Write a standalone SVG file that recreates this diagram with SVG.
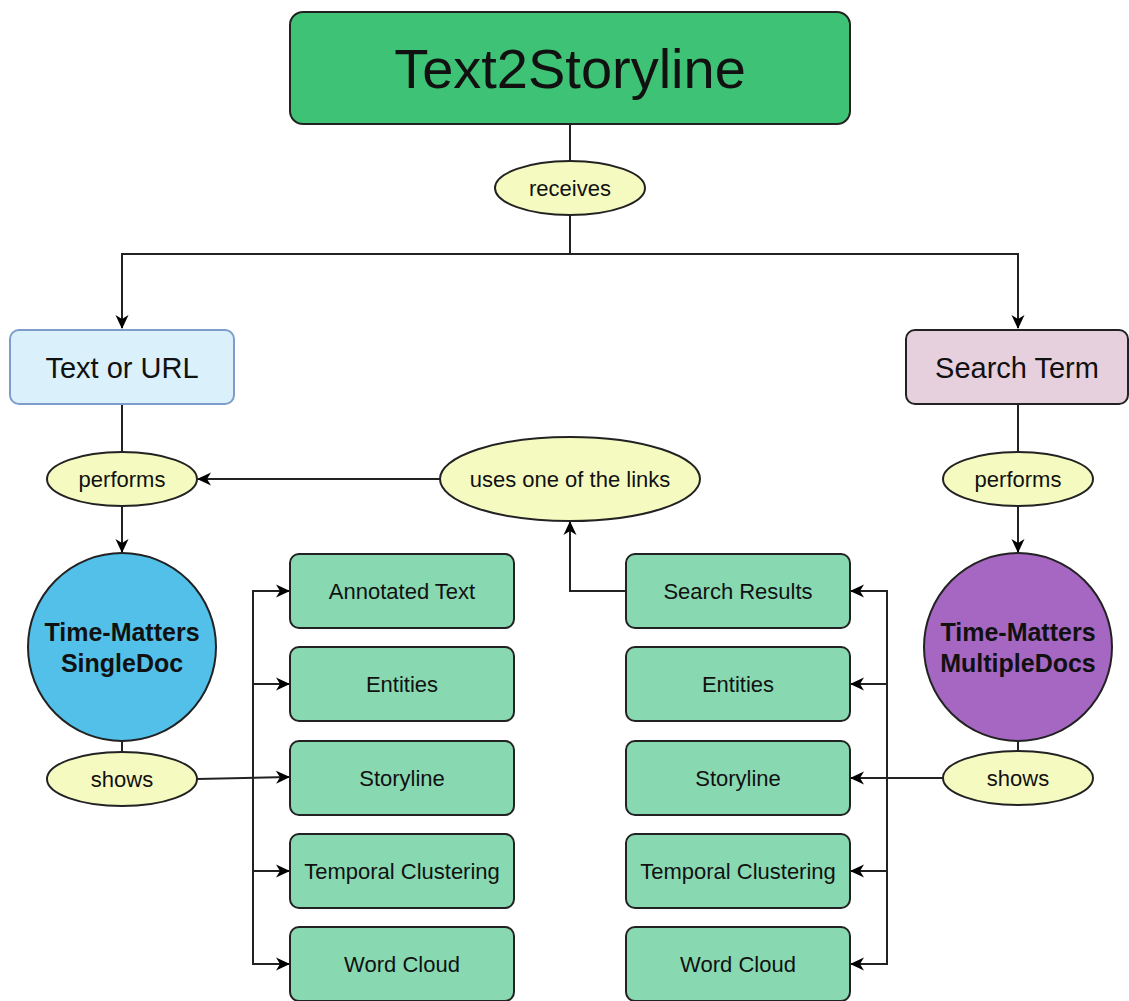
<svg xmlns="http://www.w3.org/2000/svg" width="1129" height="1001" viewBox="0 0 1129 1001">
<defs>
<marker id="arr" viewBox="0 0 14 14" refX="13" refY="7" markerWidth="14" markerHeight="14" markerUnits="userSpaceOnUse" orient="auto">
<path d="M0,0.5 L14,7 L0,13.5 L4,7 z" fill="#000"/>
</marker>
<style>
text{font-family:"Liberation Sans",Arial,sans-serif;fill:#111;text-anchor:middle;dominant-baseline:central}
.box{fill:#88D9B1;stroke:#222;stroke-width:2}
.ell{fill:#F5FBC0;stroke:#222;stroke-width:2}
.bt{font-size:22px}
.et{font-size:22px}
.ct{font-size:25px;font-weight:bold}
.con{fill:none;stroke:#222;stroke-width:2}
</style>
</defs>
<rect width="1129" height="1001" fill="#fff"/>
<g id="connectors">
<path class="con" d="M570,124 V162"/>
<path class="con" d="M570,215 V254 H122 V328" marker-end="url(#arr)"/>
<path class="con" d="M570,254 H1018 V328" marker-end="url(#arr)"/>
<path class="con" d="M122,404 V452"/>
<path class="con" d="M122,506 V552" marker-end="url(#arr)"/>
<path class="con" d="M1018,404 V452"/>
<path class="con" d="M1018,506 V552" marker-end="url(#arr)"/>
<path class="con" d="M440,479 H198" marker-end="url(#arr)"/>
<path class="con" d="M626,591 H570 V522" marker-end="url(#arr)"/>
<path class="con" d="M122,741 V752"/>
<path class="con" d="M1018,741 V752"/>
<path class="con" d="M197,779 L289,777" marker-end="url(#arr)"/>
<path class="con" d="M943,778 H851" marker-end="url(#arr)"/>
<path class="con" d="M289,591 H253 V964 H289" marker-end="url(#arr)"/>
<path class="con" d="M253,591 H289" marker-end="url(#arr)"/>
<path class="con" d="M253,684 H289" marker-end="url(#arr)"/>
<path class="con" d="M253,871 H289" marker-end="url(#arr)"/>
<path class="con" d="M851,591 H887 V964 H851" marker-end="url(#arr)"/>
<path class="con" d="M887,591 H851" marker-end="url(#arr)"/>
<path class="con" d="M887,684 H851" marker-end="url(#arr)"/>
<path class="con" d="M887,871 H851" marker-end="url(#arr)"/>
</g>
<g id="title">
<rect x="290" y="12" width="560" height="112" rx="13" fill="#3EC275" stroke="#222" stroke-width="2"/>
<text x="570" y="68" style="font-size:56px">Text2Storyline</text>
</g>
<g id="receives">
<ellipse class="ell" cx="570" cy="188" rx="75" ry="27"/>
<text class="et" x="570" y="188">receives</text>
</g>
<g id="text-or-url">
<rect x="10" y="330" width="224" height="74" rx="9" fill="#DAF1FC" stroke="#7E9DCB" stroke-width="2"/>
<text x="122" y="368" style="font-size:29px">Text or URL</text>
</g>
<g id="search-term">
<rect x="906" y="330" width="222" height="74" rx="9" fill="#E6D0DE" stroke="#222" stroke-width="2"/>
<text x="1017" y="368" style="font-size:29px">Search Term</text>
</g>
<g id="performs-left">
<ellipse class="ell" cx="122" cy="479" rx="75" ry="27"/>
<text class="et" x="122" y="479">performs</text>
</g>
<g id="performs-right">
<ellipse class="ell" cx="1018" cy="479" rx="75" ry="27"/>
<text class="et" x="1018" y="479">performs</text>
</g>
<g id="uses-links">
<ellipse class="ell" cx="570" cy="479" rx="130" ry="42"/>
<text class="et" x="570" y="479">uses one of the links</text>
</g>
<g id="singledoc">
<circle cx="122" cy="647" r="94" fill="#52C0E8" stroke="#222" stroke-width="2"/>
<text class="ct" x="122" y="632">Time-Matters</text>
<text class="ct" x="122" y="663">SingleDoc</text>
</g>
<g id="multipledocs">
<circle cx="1018" cy="647" r="94" fill="#A567C2" stroke="#222" stroke-width="2"/>
<text class="ct" x="1018" y="632">Time-Matters</text>
<text class="ct" x="1018" y="663">MultipleDocs</text>
</g>
<g id="shows-left">
<ellipse class="ell" cx="122" cy="779" rx="75" ry="27"/>
<text class="et" x="122" y="779">shows</text>
</g>
<g id="shows-right">
<ellipse class="ell" cx="1018" cy="778" rx="75" ry="27"/>
<text class="et" x="1018" y="778">shows</text>
</g>
<g id="l-annotated"><rect class="box" x="290" y="554" width="224" height="74" rx="9"/><text class="bt" x="402" y="591">Annotated Text</text></g>
<g id="l-entities"><rect class="box" x="290" y="647" width="224" height="74" rx="9"/><text class="bt" x="402" y="684">Entities</text></g>
<g id="l-storyline"><rect class="box" x="290" y="741" width="224" height="74" rx="9"/><text class="bt" x="402" y="778">Storyline</text></g>
<g id="l-temporal"><rect class="box" x="290" y="834" width="224" height="74" rx="9"/><text class="bt" x="402" y="871">Temporal Clustering</text></g>
<g id="l-wordcloud"><rect class="box" x="290" y="927" width="224" height="74" rx="9"/><text class="bt" x="402" y="964">Word Cloud</text></g>
<g id="r-search"><rect class="box" x="626" y="554" width="224" height="74" rx="9"/><text class="bt" x="738" y="591">Search Results</text></g>
<g id="r-entities"><rect class="box" x="626" y="647" width="224" height="74" rx="9"/><text class="bt" x="738" y="684">Entities</text></g>
<g id="r-storyline"><rect class="box" x="626" y="741" width="224" height="74" rx="9"/><text class="bt" x="738" y="778">Storyline</text></g>
<g id="r-temporal"><rect class="box" x="626" y="834" width="224" height="74" rx="9"/><text class="bt" x="738" y="871">Temporal Clustering</text></g>
<g id="r-wordcloud"><rect class="box" x="626" y="927" width="224" height="74" rx="9"/><text class="bt" x="738" y="964">Word Cloud</text></g>
</svg>
